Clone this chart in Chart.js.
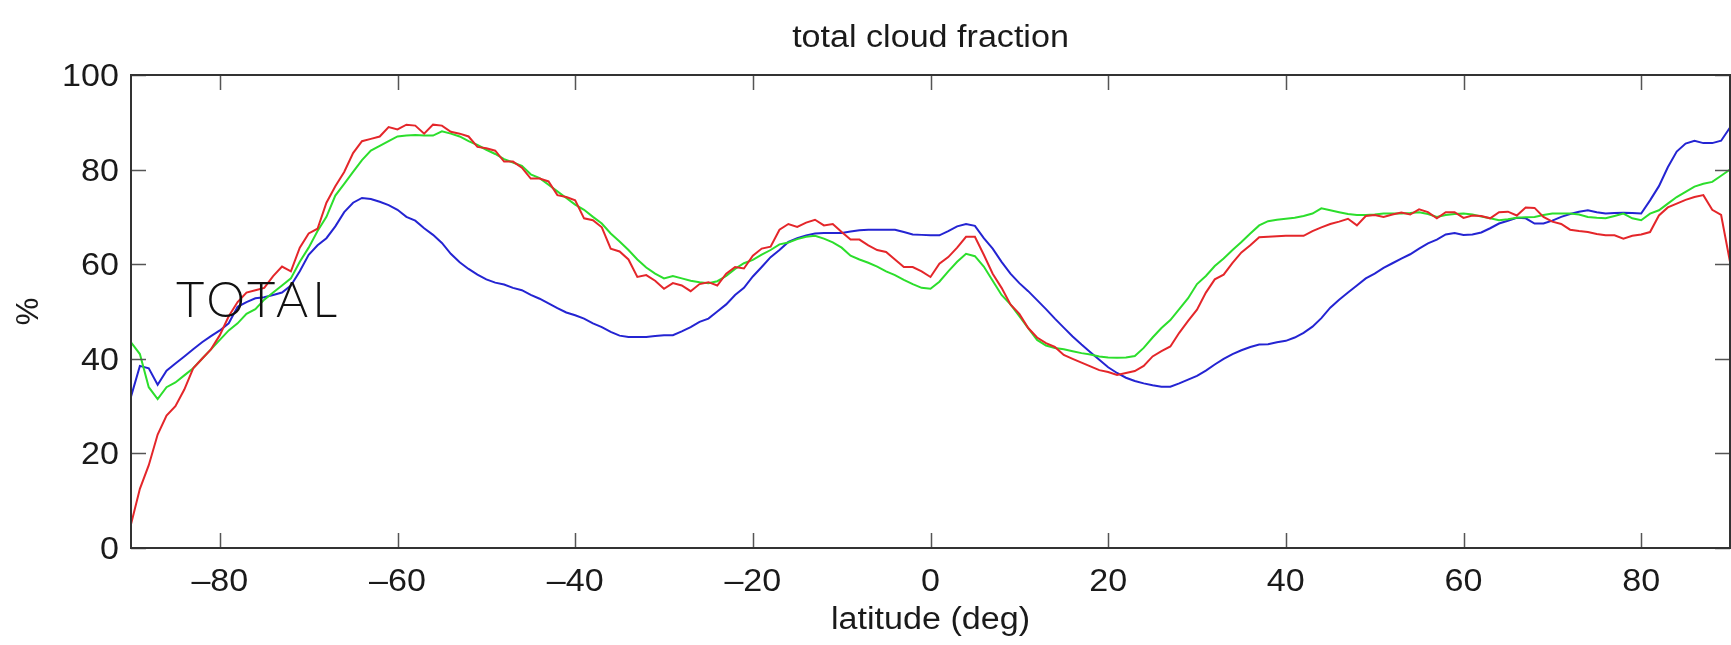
<!DOCTYPE html>
<html>
<head>
<meta charset="utf-8">
<script src="https://cdn.jsdelivr.net/npm/chart.js@4.4.1/dist/chart.umd.min.js"></script>
<style>
  html, body { margin: 0; padding: 0; background: #fff; }
  #wrap { width: 1731px; height: 645px; position: relative; }
</style>
</head>
<body>
<div id="wrap"><canvas id="cloudchart"></canvas></div>
<script>
// latitude (deg), one value per degree
const lat = [
  -90,-89,-88,-87,-86,-85,-84,-83,-82,-81,-80,-79,-78,-77,-76,-75,-74,-73,-72,-71,
  -70,-69,-68,-67,-66,-65,-64,-63,-62,-61,-60,-59,-58,-57,-56,-55,-54,-53,-52,-51,
  -50,-49,-48,-47,-46,-45,-44,-43,-42,-41,-40,-39,-38,-37,-36,-35,-34,-33,-32,-31,
  -30,-29,-28,-27,-26,-25,-24,-23,-22,-21,-20,-19,-18,-17,-16,-15,-14,-13,-12,-11,
  -10,-9,-8,-7,-6,-5,-4,-3,-2,-1,0,1,2,3,4,5,6,7,8,9,
  10,11,12,13,14,15,16,17,18,19,20,21,22,23,24,25,26,27,28,29,
  30,31,32,33,34,35,36,37,38,39,40,41,42,43,44,45,46,47,48,49,
  50,51,52,53,54,55,56,57,58,59,60,61,62,63,64,65,66,67,68,69,
  70,71,72,73,74,75,76,77,78,79,80,81,82,83,84,85,86,87,88,89,90
];

const redVals = [
  5,12.5,17.5,24,28,30,33.5,38,40,42,45,49,52,54,54.5,55,57.5,59.5,58.5,63.5,
  66.5,67.5,73,76.5,79.5,83.5,86,86.5,87,89,88.5,
  89.5,89.3,87.6,89.5,89.3,88,87.6,87,84.8,84.5,84,81.7,81.7,80.4,78.1,78.1,77.5,74.6,74.2,73.5,
  69.7,69.3,67.8,63.3,62.7,61,57.3,57.7,56.5,54.8,
  56,55.5,54.3,55.8,56.2,55.5,58,59.4,59.1,61.8,63.3,63.7,67.3,68.5,67.9,68.8,69.4,68.2,68.5,66.8,
  65.2,65.2,64,63,62.6,61,59.4,59.4,58.5,
  57.3,60.1,61.5,63.5,65.8,65.8,62,58,55,51.5,49.5,46.5,44.5,43.3,42.5,40.8,40,39.2,38.4,37.6,
  37.2,36.6,37,37.4,38.5,40.5,41.6,42.6,45.5,48,
  50.4,54,56.8,57.8,60.3,62.5,64,65.7,65.8,65.9,66,66,66,67,67.8,68.5,69,69.6,68.2,70.2,
  70.4,70,70.5,70.9,70.5,71.6,71,69.7,71,71,
  69.8,70.3,70.2,69.7,71,71.1,70.3,72,71.9,70,69,68.5,67.3,67,66.8,66.4,66.1,66.1,65.4,66,
  66.3,66.8,70.3,72,72.8,73.6,74.2,74.6,71.5,70.4,60.5
];

const greenVals = [
  43.5,41,34,31.5,34,35,36.5,38,40,42,44,46,47.5,49.5,50.5,52.5,54,55.5,57,60.5,
  63.5,67,70,74.5,77,79.5,82,84,85,86,87,
  87.2,87.3,87.2,87.2,88.1,87.6,87,86,85.2,84.2,83.3,82.2,81.5,80.8,79,78.2,76.8,75.4,74,72.6,
  71.5,70,68.6,66.5,64.8,63,61,59.3,58,57,
  57.5,57,56.5,56.2,56,56.4,57.5,59,60.2,60.9,62,63,64.2,64.6,65.3,65.8,66,65.4,64.6,63.5,
  61.8,61,60.3,59.5,58.5,57.7,56.7,55.8,55,
  54.8,56.3,58.5,60.5,62.2,61.7,59.5,56.5,53.5,51.5,49,46.5,44,42.8,42.3,42,41.6,41.2,40.9,40.5,
  40.3,40.2,40.3,40.6,42.3,44.5,46.5,48.2,50.5,52.8,
  55.8,57.5,59.6,61.2,63,64.7,66.5,68.2,69.1,69.4,69.6,69.8,70.2,70.7,71.8,71.4,71,70.6,70.4,70.4,
  70.5,70.7,70.7,70.7,70.8,71,70.6,70,70.4,70.6,
  70.7,70.5,70.1,69.7,69.3,69.5,69.8,69.9,70,70.4,70.7,70.7,70.7,70.5,70,69.8,69.7,70.2,70.7,69.7,
  69.3,70.7,71.4,72.8,74.2,75.3,76.4,77,77.4,78.7,80
];

const blueVals = [
  32,38.5,38,34.5,37.5,39,40.5,42,43.5,44.8,46,47.5,51,52,52.8,53,53.5,54,55.5,58.5,
  62,64,65.5,68,71,73,74,73.8,73.2,72.5,71.5,
  70,69.2,67.6,66.2,64.5,62.2,60.4,59,57.8,56.8,56.1,55.7,55,54.5,53.5,52.7,51.7,50.7,49.8,49.2,
  48.5,47.5,46.7,45.7,44.9,44.6,44.6,44.6,44.8,45,
  45,45.8,46.7,47.8,48.5,50,51.5,53.5,55,57.4,59.4,61.5,63,64.7,65.5,66.1,66.5,66.6,66.6,66.6,
  66.9,67.2,67.3,67.3,67.3,67.3,66.8,66.3,66.2,
  66.1,66.1,67,68,68.5,68.1,65.5,63.3,60.5,58,56,54.3,52.4,50.5,48.5,46.6,44.7,43,41.4,39.8,
  38.2,37,36,35.3,34.8,34.4,34.1,34.1,34.8,35.6,
  36.4,37.5,38.8,40,41,41.8,42.5,43,43.1,43.5,43.8,44.5,45.5,46.8,48.6,50.8,52.5,54,55.5,57,
  58,59.2,60.2,61.2,62.1,63.3,64.4,65.2,66.3,66.6,
  66.2,66.3,66.7,67.6,68.6,69.2,69.8,69.7,68.6,68.6,69.2,70,70.6,71.1,71.4,71,70.7,70.8,70.9,70.8,
  70.7,73.5,76.5,80.5,83.8,85.5,86.1,85.6,85.6,86.1,88.9
];

const xTicks = [-80, -60, -40, -20, 0, 20, 40, 60, 80];
const yTicks = [0, 20, 40, 60, 80, 100];

const FONT = "'Liberation Sans', Arial, Helvetica, sans-serif";
const STRETCH = 1.1;   // the source image is a bit wider than tall

function pts(vals) {
  return lat.map((x, i) => ({ x: x, y: vals[i] }));
}

function wideText(ctx, str, x, y, align) {
  ctx.save();
  ctx.translate(x, y);
  ctx.scale(STRETCH, 1);
  ctx.textAlign = align;
  ctx.fillText(str, 0, 0);
  ctx.restore();
}

// box, inward ticks and all the text
const frameAndText = {
  id: 'frameAndText',
  afterDraw(chart) {
    const ctx = chart.ctx;
    const a = chart.chartArea;
    const sx = chart.scales.x, sy = chart.scales.y;
    const tl = 15;
    ctx.save();
    ctx.strokeStyle = '#555';
    ctx.lineWidth = 1.5;
    ctx.beginPath();
    xTicks.forEach(v => {
      const p = Math.round(sx.getPixelForValue(v)) + 0.5;
      ctx.moveTo(p, a.top); ctx.lineTo(p, a.top + tl);
      ctx.moveTo(p, a.bottom); ctx.lineTo(p, a.bottom - tl);
    });
    yTicks.forEach(v => {
      const p = Math.round(sy.getPixelForValue(v)) + 0.5;
      ctx.moveTo(a.left, p); ctx.lineTo(a.left + tl, p);
      ctx.moveTo(a.right, p); ctx.lineTo(a.right - tl, p);
    });
    ctx.stroke();

    ctx.strokeStyle = '#333';
    ctx.lineWidth = 2;
    ctx.strokeRect(a.left, a.top, a.right - a.left, a.bottom - a.top);

    ctx.fillStyle = '#1a1a1a';
    ctx.textBaseline = 'alphabetic';
    ctx.font = '31px ' + FONT;

    xTicks.forEach(v => {
      wideText(ctx, String(v).replace('-', '\u2013'), sx.getPixelForValue(v), 591, 'center');
    });
    yTicks.forEach(v => {
      wideText(ctx, String(v), a.left - 12, sy.getPixelForValue(v) + 11, 'right');
    });

    const cx = (a.left + a.right) / 2;
    wideText(ctx, 'total cloud fraction', cx, 47, 'center');
    wideText(ctx, 'latitude (deg)', cx, 629, 'center');

    ctx.save();
    ctx.translate(38, (a.top + a.bottom) / 2);
    ctx.rotate(-Math.PI / 2);
    ctx.textAlign = 'center';
    ctx.fillText('%', 0, 0);
    ctx.restore();

    ctx.fillStyle = '#111';
    ctx.textAlign = 'left';
    ctx.font = '300 49px Lato, "Open Sans", sans-serif';
    ctx.letterSpacing = '4px';
    ctx.fillText('TOTAL', 176, 317);
    ctx.restore();
  }
};

const config = {
  type: 'line',
  data: {
    datasets: [
      { label: 'red', data: pts(redVals), borderColor: 'rgb(228,38,42)', borderWidth: 2 },
      { label: 'green', data: pts(greenVals), borderColor: 'rgb(44,222,44)', borderWidth: 2 },
      { label: 'blue', data: pts(blueVals), borderColor: 'rgb(36,36,210)', borderWidth: 2 }
    ]
  },
  options: {
    responsive: true,
    maintainAspectRatio: false,
    animation: false,
    events: [],
    elements: { point: { radius: 0 }, line: { tension: 0 } },
    layout: { padding: { top: 75, right: 1, left: 0, bottom: 0 } },
    plugins: { legend: { display: false }, title: { display: false }, tooltip: { enabled: false } },
    scales: {
      x: {
        type: 'linear',
        min: -90,
        max: 90,
        afterBuildTicks: s => { s.ticks = xTicks.map(v => ({ value: v })); },
        afterFit: s => { s.height = 97; },
        grid: { display: false, drawTicks: false },
        border: { display: false },
        ticks: { display: false }
      },
      y: {
        min: 0,
        max: 100,
        afterBuildTicks: s => { s.ticks = yTicks.map(v => ({ value: v })); },
        afterFit: s => { s.width = 131; },
        grid: { display: false, drawTicks: false },
        border: { display: false },
        ticks: { display: false }
      }
    }
  },
  plugins: [frameAndText]
};

const cloudChart = new Chart(document.getElementById('cloudchart'), config);
</script>
</body>
</html>
